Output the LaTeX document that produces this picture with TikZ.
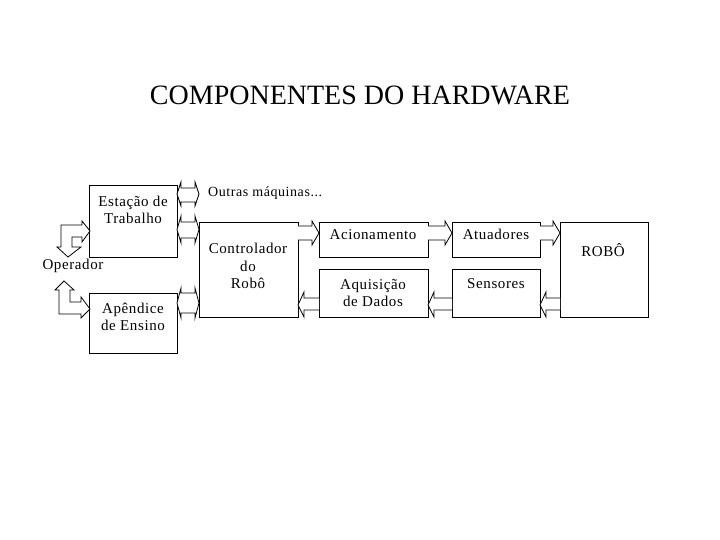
\documentclass[tikz,border=0pt]{standalone}
\usepackage{fontspec}
\setmainfont{Liberation Serif}
\newfontfamily\spacedfont[LetterSpace=4]{Liberation Serif}
\begin{document}
\begin{tikzpicture}[x=1pt,y=-1pt,
  box/.style={draw,line width=0.8pt,fill=none},
  lbl/.style={align=center,font=\spacedfont\fontsize{15}{17.5}\selectfont,inner sep=0pt},
  barrow/.style={draw,line width=0.8pt,fill=white,line join=miter}]
\useasboundingbox (0,0) rectangle (720,540);
% title
\node[inner sep=0pt,font=\fontsize{28}{32}\selectfont] (title) at (360,95) {COMPONENTES DO HARDWARE};
% boxes
\draw[box] (89,185) rectangle (177,257);
\draw[box] (89,293) rectangle (177,353);
\draw[box] (199,222) rectangle (298,317);
\draw[box] (319,222) rectangle (428,257);
\draw[box] (319,269) rectangle (428,317);
\draw[box] (452,222) rectangle (540,257);
\draw[box] (452,269) rectangle (540,317);
\draw[box] (560,222) rectangle (648,317);
% labels
\node[lbl] (est) at (133,210) {Estação de\\Trabalho};
\node[lbl] (ape) at (133,317) {Apêndice\\de Ensino};
\node[lbl] (op) at (73,266) {Operador};
\node[lbl,anchor=west,font=\spacedfont\fontsize{14}{16}\selectfont] (out) at (208,193) {Outras máquinas...};
\node[lbl] (ctl) at (248,266) {Controlador\\do\\Robô};
\node[lbl] (aci) at (373,235) {Acionamento};
\node[lbl] (aqu) at (373,293) {Aquisição\\de Dados};
\node[lbl] (atu) at (496,234) {Atuadores};
\node[lbl] (sen) at (496,284) {Sensores};
\node[lbl] (rob) at (603,250) {ROBÔ};
% right-pointing block arrows (top row)
\foreach \xa/\xb in {298/319, 428/452, 540/560}{
  \draw[barrow] (\xa,226) -- (\xb-7,226) -- (\xb-7,221) -- (\xb,233) -- (\xb-7,245) -- (\xb-7,240) -- (\xa,240);
}
% left-pointing block arrows (bottom row)
\foreach \xa/\xb in {319/298, 452/428, 560/540}{
  \draw[barrow] (\xa,298) -- (\xb+6,298) -- (\xb+6,292) -- (\xb,305) -- (\xb+6,317) -- (\xb+6,310) -- (\xa,310);
}
% double-headed arrows
\foreach \ta/\sa/\sb/\tb in {182/188/202/206, 216/222/238/243, 288/293/313/318}{
  \draw[barrow] (177,{(\ta+\tb)/2}) -- (181,\ta) -- (181,\sa) -- (195,\sa) -- (195,\ta) -- (199,{(\ta+\tb)/2})
     -- (195,\tb) -- (195,\sb) -- (181,\sb) -- (181,\tb) -- cycle;
}
% bent arrows to/from operator
\draw[barrow] (90,231) -- (82,221) -- (82,225) -- (61,225) -- (61,247) -- (57,247) -- (68,257)
   -- (81,247) -- (72,247) -- (72,237) -- (82,237) -- (82,242) -- cycle;
\draw[barrow] (64,281) -- (74,290) -- (70,290) -- (70,302) -- (81,302) -- (81,297) -- (90,309)
   -- (81,318) -- (81,314) -- (59,314) -- (59,290) -- (55,290) -- cycle;
\end{tikzpicture}
\end{document}
